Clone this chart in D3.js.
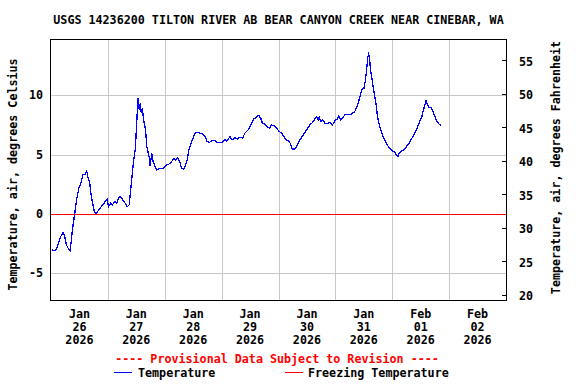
<!DOCTYPE html>
<html>
<head>
<meta charset="utf-8">
<script src="https://cdn.jsdelivr.net/npm/d3@7"></script>
<style>
  body { margin: 0; background: #fff; }
  text { font-family: "DejaVu Sans Mono", monospace; font-weight: bold; font-size: 11.7px; }
</style>
</head>
<body>
<div id="chart"></div>
<script>
// Data: hours after 2026-01-26 00:00 and air temperature (deg C)
var hours = [0.4, 1.8, 3.0, 4.1, 5.1, 5.8, 6.5, 7.5, 8.1, 8.9, 9.4, 10.0, 10.8, 11.8, 12.8, 13.4, 14.2, 15.1, 15.6, 16.3,
  17.0, 17.7, 18.4, 19.3, 20.1, 21.0, 21.9, 22.9, 23.7, 24.3, 25.2, 25.9, 26.9, 27.7, 28.6, 29.4, 30.2, 31.3, 32.2, 33.0,
  33.6, 34.3, 35.0, 35.6, 36.1, 36.7, 37.2, 37.7, 38.1, 38.5, 39.2, 39.9, 40.4, 41.4, 41.8, 42.5, 43.1, 43.9, 44.6, 46.0,
  47.4, 48.4, 49.8, 50.9, 51.9, 52.6, 53.4, 54.3, 55.1, 56.0, 56.8, 57.5, 58.2, 59.1, 60.0, 60.7, 61.7, 62.8, 63.8, 65.0,
  65.9, 66.8, 67.8, 69.2, 70.3, 71.7, 72.7, 73.4, 74.1, 75.5, 76.5, 77.6, 78.7, 79.7, 80.9, 81.8, 83.2, 84.7, 85.6, 86.8,
  87.6, 88.5, 89.1, 89.8, 91.0, 92.1, 93.1, 94.2, 95.2, 96.3, 97.3, 98.3, 99.1, 100.1, 101.1, 101.8, 102.9, 103.9, 105.0, 106.2,
  107.1, 108.1, 109.2, 110.4, 111.4, 112.1, 112.7, 113.2, 113.8, 114.6, 115.6, 116.5, 117.7, 118.8, 119.8, 120.8, 121.4, 122.2, 123.3, 124.0,
  125.4, 126.8, 128.2, 129.2, 130.0, 130.8, 131.3, 132.1, 132.7, 133.2, 133.6, 134.0, 134.4, 134.8, 135.4, 135.9, 136.5, 137.1, 137.6, 138.2,
  138.9, 139.6, 140.3, 141.2, 142.0, 143.0, 144.1, 145.1, 145.8, 146.4, 146.9, 147.9, 148.9, 150.0, 151.1, 152.1, 153.1, 154.2, 155.3, 156.4,
  157.0, 157.8, 158.2, 158.7, 159.6, 160.3, 161.0, 161.7, 162.4, 163.1, 163.8, 164.6];
var tempC = [-3.04, -3.1, -2.6, -1.9, -1.57, -1.9, -2.6, -3.0, -3.1, -1.6, -0.8, 0.0, 1.2, 2.2, 2.7, 3.3, 3.3, 3.6, 3.1, 2.7,
  1.46, 0.76, 0.1, 0.05, 0.34, 0.56, 0.76, 1.04, 1.2, 0.6, 0.9, 0.76, 1.04, 0.9, 1.4, 1.45, 1.2, 0.9, 0.6, 0.76,
  2.0, 3.4, 4.7, 5.5, 7.4, 9.75, 8.8, 9.3, 8.5, 8.9, 7.8, 7.1, 5.7, 4.8, 4.0, 5.1, 4.4, 4.0, 3.7, 3.85,
  3.85, 4.1, 4.2, 4.4, 4.7, 4.55, 4.7, 4.4, 3.85, 3.77, 4.1, 4.55, 5.4, 5.96, 6.4, 6.8, 6.86, 6.8, 6.75, 6.5,
  6.1, 6.0, 6.18, 6.18, 6.0, 6.0, 6.1, 6.24, 6.1, 6.5, 6.24, 6.4, 6.3, 6.47, 6.4, 6.8, 7.08, 7.65, 8.0, 8.15,
  8.3, 8.07, 7.7, 7.6, 7.4, 7.22, 7.5, 7.4, 7.22, 6.94, 6.8, 6.52, 6.24, 6.18, 5.9, 5.46, 5.46, 5.8, 6.24, 6.58,
  6.86, 7.14, 7.5, 7.7, 8.0, 8.15, 7.9, 8.15, 7.8, 7.9, 7.65, 7.6, 7.7, 7.5, 7.87, 8.0, 8.26, 7.93, 8.15, 8.35,
  8.4, 8.4, 8.63, 9.05, 9.6, 10.2, 10.54, 10.6, 11.3, 12.14, 13.1, 13.47, 13.26, 12.14, 11.44, 10.73, 10.03, 9.33, 8.49, 7.78,
  7.22, 6.8, 6.43, 6.04, 5.76, 5.54, 5.31, 5.2, 4.97, 4.8, 5.1, 5.31, 5.4, 5.67, 5.96, 6.3, 6.66, 7.08, 7.65, 8.12,
  8.63, 9.19, 9.6, 9.25, 8.96, 8.96, 8.68, 8.35, 8.0, 7.73, 7.56, 7.45];
var leftTicks = [-5, 0, 5, 10];
var rightTicks = [20, 25, 30, 35, 40, 45, 50, 55];
var freezingC = 0;

var svgWidth = 576;
var svgHeight = 384;
var margin = { top: 39, right: 70, bottom: 84, left: 51 };
var width = 506 - margin.left;
var height = 300 - margin.top;

var start = new Date(2026, 0, 26);
var end = new Date(2026, 1, 3);

var svg = d3.select("#chart")
  .append("svg")
  .attr("width", svgWidth)
  .attr("height", svgHeight);

var chartGroup = svg.append("g")
  .attr("transform", `translate(${margin.left}, ${margin.top})`);

var xScale = d3.scaleTime().domain([start, end]).range([0, width]);
var yScale = d3.scaleLinear().domain([-7.25, 14.73]).range([height, 0]);
var yRight = d3.scaleLinear().domain([19.25, 58.2]).range([height, 0]);

var data = hours.map(function(h, i) {
  return { date: new Date(start.getTime() + h * 3600000), value: tempC[i] };
});

// grid
var days = d3.timeDay.range(d3.timeDay.offset(start, 1), end);
chartGroup.selectAll(".vgrid")
  .data(days)
  .enter()
  .append("line")
  .attr("x1", d => Math.round(xScale(d)) + 0.5)
  .attr("x2", d => Math.round(xScale(d)) + 0.5)
  .attr("y1", 0)
  .attr("y2", height)
  .attr("stroke", "#c8c8c8");

chartGroup.selectAll(".hgrid")
  .data(leftTicks)
  .enter()
  .append("line")
  .attr("x1", 0)
  .attr("x2", width)
  .attr("y1", d => Math.round(yScale(d)) + 0.5)
  .attr("y2", d => Math.round(yScale(d)) + 0.5)
  .attr("stroke", "#c8c8c8");

// freezing line
chartGroup.append("line")
  .attr("x1", 0)
  .attr("x2", width)
  .attr("y1", Math.round(yScale(freezingC)) + 0.5)
  .attr("y2", Math.round(yScale(freezingC)) + 0.5)
  .attr("stroke", "#ff0000");

// temperature line
var line = d3.line()
  .x(d => xScale(d.date))
  .y(d => yScale(d.value));

chartGroup.append("path")
  .datum(data)
  .attr("d", line)
  .attr("fill", "none")
  .attr("stroke", "#0000ff")
  .attr("stroke-width", 1.3)
  .attr("shape-rendering", "crispEdges");

// frame
chartGroup.append("rect")
  .attr("x", -0.5)
  .attr("y", 0.5)
  .attr("width", width + 1)
  .attr("height", height)
  .attr("fill", "none")
  .attr("stroke", "#000");

// left tick labels
chartGroup.selectAll(".ltick")
  .data(leftTicks)
  .enter()
  .append("text")
  .attr("x", -8)
  .attr("y", d => yScale(d))
  .attr("dy", "0.36em")
  .attr("text-anchor", "end")
  .text(d => d);

// right ticks and labels
chartGroup.selectAll(".rtickline")
  .data(rightTicks)
  .enter()
  .append("line")
  .attr("x1", width - 4)
  .attr("x2", width)
  .attr("y1", d => Math.round(yRight(d)) + 0.5)
  .attr("y2", d => Math.round(yRight(d)) + 0.5)
  .attr("stroke", "#000");

chartGroup.selectAll(".rtick")
  .data(rightTicks)
  .enter()
  .append("text")
  .attr("x", width + 13)
  .attr("y", d => yRight(d) + 1)
  .attr("dy", "0.36em")
  .text(d => d);

// x tick labels at noon of each day
var noons = d3.timeDay.range(start, end).map(d => d3.timeHour.offset(d, 12));
var fmt = [d3.timeFormat("%b"), d3.timeFormat("%d"), d3.timeFormat("%Y")];
var xLabels = chartGroup.selectAll(".xtick")
  .data(noons)
  .enter()
  .append("text")
  .attr("text-anchor", "middle")
  .attr("transform", d => `translate(${xScale(d)}, ${height + 18})`);
fmt.forEach(function(f, i) {
  xLabels.append("tspan")
    .attr("x", 0)
    .attr("y", i * 13)
    .text(d => f(d));
});

// axis titles
svg.append("text")
  .attr("transform", `translate(17, ${margin.top + height / 2 + 5}) rotate(-90)`)
  .attr("text-anchor", "middle")
  .text("Temperature, air, degrees Celsius");

svg.append("text")
  .attr("transform", `translate(560, ${margin.top + height / 2 - 2}) rotate(-90)`)
  .attr("text-anchor", "middle")
  .text("Temperature, air, degrees Fahrenheit");

// title
svg.append("text")
  .attr("x", margin.left + width / 2)
  .attr("y", 24)
  .attr("text-anchor", "middle")
  .text("USGS 14236200 TILTON RIVER AB BEAR CANYON CREEK NEAR CINEBAR, WA");

// legend
svg.append("text")
  .attr("x", 277)
  .attr("y", 363)
  .attr("text-anchor", "middle")
  .attr("fill", "#ff0000")
  .text("---- Provisional Data Subject to Revision ----");

svg.append("line")
  .attr("x1", 114).attr("x2", 132)
  .attr("y1", 372.5).attr("y2", 372.5)
  .attr("stroke", "#0000ff");
svg.append("text")
  .attr("x", 138)
  .attr("y", 377)
  .text("Temperature");

svg.append("line")
  .attr("x1", 285).attr("x2", 303)
  .attr("y1", 372.5).attr("y2", 372.5)
  .attr("stroke", "#ff0000");
svg.append("text")
  .attr("x", 308)
  .attr("y", 377)
  .text("Freezing Temperature");
</script>
</body>
</html>
